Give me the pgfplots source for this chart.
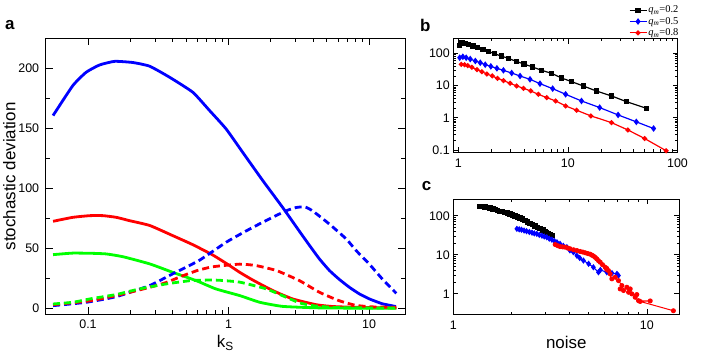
\documentclass[border=0pt]{standalone}
\usepackage{fontspec}
\setmainfont{Liberation Sans}
\newfontfamily\seriffont{Liberation Serif}
\usepackage{pgfplots}
\pgfplotsset{compat=1.18}
\newcommand\qm[1]{{\seriffont\textit{q}\textsubscript{\textit{m}}=#1}}
\begin{document}
\begin{tikzpicture}
\useasboundingbox (0bp,0bp) rectangle (708bp,354bp);
\pgfplotsset{
  every axis/.append style={
    scale only axis,
    /pgf/number format/assume math mode=true,
    tick label style={font=\fontsize{12.5}{14}\selectfont},
    label style={font=\fontsize{17}{20}\selectfont},
    axis line style={line width=0.8bp},
    every tick/.style={black, line width=0.8bp},
  }
}
% ---------------- panel a ----------------
\begin{axis}[at={(45.7bp,39.7bp)}, anchor=south west, width=359.3bp, height=276bp,
  xmode=log, xmin=0.05, xmax=18, ymin=-5, ymax=225,
  xtick={0.1,1,10}, xticklabels={0.1,1,10},
  ytick={0,50,100,150,200}, minor ytick={25,75,125,175},
  major tick length=7bp, minor tick length=4bp,
  yticklabel style={xshift=-3bp}, xticklabel style={yshift=-2bp},
  xlabel={k\textsubscript{S}}, ylabel={stochastic deviation},
  ylabel shift=-4bp]
\addplot[blue, line width=2.8bp, smooth, tension=0.3] coordinates {
(0.0564,160.6)(0.078,185.6)(0.097,196.7)(0.121,202.8)(0.155,205.8)(0.209,204.8)
(0.275,201.7)(0.381,192.5)(0.557,180)(0.73,165)(0.96,149.5)(1.26,130)(1.75,106.5)
(2.42,84.2)(3.2,64)(3.76,52.5)(4.44,41)(5.22,31.5)(6.15,24)(7.24,17.5)(8.53,12)
(10.05,7.8)(12.4,3.8)(15.5,1.5)};
\addplot[red, line width=2.8bp, smooth, tension=0.3] coordinates {
(0.0564,72.5)(0.078,75.8)(0.103,77.2)(0.128,77.2)(0.159,75.8)(0.198,73)(0.275,69)
(0.40,60.6)(0.557,53)(0.77,44.5)(0.96,37.5)(1.2,30)(1.49,23.5)(2.07,14.7)(2.86,7.8)
(4.2,3)(5.5,1.5)(8,0.8)(12,0.5)(15.6,0.3)};
\addplot[green, line width=2.8bp, smooth, tension=0.3] coordinates {
(0.0564,44.7)(0.078,46)(0.108,45.8)(0.135,45.3)(0.177,43)(0.275,37)(0.4,30)
(0.59,23)(0.81,16.2)(1.2,10.6)(1.67,5)(2.42,1.6)(4.2,0.4)(8,0.1)(15.6,0)};
\addplot[blue, line width=2.8bp, dash pattern=on 7bp off 4bp, smooth, tension=0.3] coordinates {
(0.0564,2.2)(0.097,5)(0.159,9.7)(0.275,19)(0.4,28.7)(0.62,40)(0.96,55)(1.2,61.5)(1.49,67.5)
(2.07,76)(2.6,81.5)(3.03,84)(3.5,84.5)(3.98,81)(5.2,70.3)(6.87,57.8)(8.1,48)(10,37)
(12.4,24.5)(15.6,12.5)};
\addplot[red, line width=2.8bp, dash pattern=on 7bp off 4bp, smooth, tension=0.3] coordinates {
(0.0564,3)(0.1,6)(0.159,10.6)(0.275,17.5)(0.36,21.5)(0.47,27)(0.6,31.5)(0.77,34.6)
(1.2,36.8)(1.57,35.6)(2.2,31.4)(3.2,23)(4.44,13.3)(6.1,6.4)(8,2.5)(10.5,1.2)(15.6,0.8)};
\addplot[green, line width=2.8bp, dash pattern=on 7bp off 4bp, smooth, tension=0.3] coordinates {
(0.0564,3.6)(0.078,5)(0.103,7.8)(0.159,11.5)(0.233,16.2)(0.36,20.3)(0.53,23)(0.69,23.5)
(0.85,23.4)(1.2,21.8)(1.85,16.2)(2.57,9.2)(3.2,4.5)(3.97,2.2)(5.5,0.8)(8,0.4)(15.6,0.2)};
\end{axis}
% ---------------- panel b ----------------
\begin{axis}[at={(453.3bp,202bp)}, anchor=south west, width=224.2bp, height=113.5bp,
  xmode=log, ymode=log, xmin=0.9, xmax=100, ymin=0.087, ymax=290,
  xtick={1,10,100}, xticklabels={1,10,100},
  ytick={0.1,1,10,100}, yticklabels={0.1,1,10,100},
  major tick length=5bp, minor tick length=2.5bp,
  xticklabel style={yshift=-3bp},
  legend style={at={(1.01,1.0)}, anchor=south east, draw=none, fill=none,
    font=\fontsize{10.5}{11}\selectfont, inner sep=0pt, row sep=0.5bp,
    nodes={inner sep=1.2bp}},
  legend cell align=left]
\addplot[black, line width=1.2bp, mark=square*, mark size=2bp] coordinates {
(1.03,180)(1.08,209)(1.158,204)(1.24,185)(1.36,169)(1.50,150)(1.68,133)(1.89,115)
(2.14,97.7)(2.46,82.7)(2.87,70)(3.37,56.5)(3.98,46.8)(4.77,37.7)(5.76,29.8)(7.11,24)
(8.76,17.2)(10.8,13.3)(13.8,9.75)(18.2,6.8)(25,4.78)(34.1,3.19)(51.9,1.98)};
\addlegendentry{\qm{0.2}}
\addplot[blue, line width=1.2bp, mark=diamond*, mark size=2.4bp] coordinates {
(1.03,73.5)(1.10,78.9)(1.18,73.5)(1.285,66.8)(1.43,58)(1.585,51.4)(1.76,44.6)(1.98,39.6)
(2.25,34.4)(2.58,29.8)(3.07,24.6)(3.66,19.9)(4.51,15.7)(5.56,11.5)(7.26,8.05)(9.53,5.38)
(13.3,3.34)(19.5,2.08)(28.7,1.23)(42.1,0.75)(60.5,0.466)};
\addlegendentry{\qm{0.5}}
\addplot[red, line width=1.2bp, mark=*, mark size=1.9bp] coordinates {
(1.065,45.6)(1.14,44.6)(1.22,41.5)(1.33,36.9)(1.48,31.2)(1.64,27.1)(1.82,22.9)(2.04,19.9)
(2.28,16.8)(2.58,14.3)(2.97,11.8)(3.41,9.75)(3.93,8.25)(4.58,6.82)(5.37,5.38)(6.40,4.24)
(7.73,3.34)(9.53,2.34)(12.0,1.72)(16.2,1.15)(25.0,0.71)(35.3,0.42)(50.1,0.228)(78.9,0.095)};
\addlegendentry{\qm{0.8}}
\end{axis}
% ---------------- panel c ----------------
\begin{axis}[at={(453.3bp,39.7bp)}, anchor=south west, width=226bp, height=115bp,
  xmode=log, ymode=log, xmin=1, xmax=14.7, ymin=0.3, ymax=265,
  xtick={1,10}, xticklabels={1,10},
  ytick={1,10,100}, yticklabels={1,10,100},
  major tick length=5bp, minor tick length=2.5bp,
  xticklabel style={yshift=-3bp},
  xlabel={noise}]
\addplot[black, line width=1bp, mark=square*, mark size=2.2bp] coordinates {
(1.374,176)(1.40,175)(1.43,173)(1.46,170)(1.49,166)(1.52,161)(1.55,157)(1.60,151)
(1.64,145)(1.69,138)(1.74,131)(1.80,127)(1.85,122)(1.90,117)(1.96,112)(2.02,106)
(2.08,100)(2.14,94)(2.21,88.9)(2.28,82)(2.35,75.7)(2.42,70)(2.49,64.6)(2.56,60)
(2.64,55.4)(2.72,51)(2.81,47.2)(2.90,43.5)(2.98,40.3)(3.04,38)(3.10,35.8)(3.16,33.5)(3.23,31.3)};
\addplot[blue, line width=1bp, mark=diamond*, mark size=2.4bp] coordinates {
(2.13,46.4)(2.19,45)(2.25,44)(2.32,42)(2.39,40.3)(2.47,38.5)(2.55,37)(2.62,35.5)(2.70,34.5)
(2.78,32.5)(2.87,31)(2.95,29.5)(3.04,28.2)(3.13,26)(3.23,24.5)(3.33,22.5)(3.43,21)
(3.56,19.1)(3.7,17)(3.86,15.7)(4.0,13)(4.17,11.7)(4.35,9.5)(4.5,8.3)(4.70,7.15)
(5.0,5.9)(5.29,4.81)(5.62,3.58)(5.75,4.1)(6.21,3.58)(6.6,3.4)(7.0,3.26)(7.13,2.95)};
\addplot[red, line width=1bp, mark=*, mark size=2bp] coordinates {
(3.36,18.4)(3.46,17.2)(3.56,16.3)(3.67,16)(3.78,15.7)(3.9,15)(4.01,14.3)(4.18,13.5)
(4.35,12.9)(4.52,12.2)(4.66,11.8)(4.8,11.3)(4.95,10.8)(5.09,10.4)(5.2,9.8)(5.3,9.3)
(5.41,8.6)(5.51,7.9)(5.62,7.1)(5.74,6.46)(5.9,5.6)(6.09,4.81)(6.2,4.5)(6.33,3.95)(6.46,3.26)
(6.2,4.2)(6.59,2.43)(6.86,2.67)(7.13,2.19)(7.43,1.63)(7.28,1.34)(7.57,1.22)(7.88,1.48)
(8.04,1.10)(8.20,1.34)(8.36,1.0)(8.87,0.96)(8.70,0.82)(9.05,0.67)(10.4,0.66)(9.23,0.64)(13.7,0.37)};
\end{axis}
% panel letters
\node[anchor=base west, inner sep=0pt, font=\fontsize{17}{20}\selectfont\bfseries] at (5bp,324bp) {a};
\node[anchor=base west, inner sep=0pt, font=\fontsize{17}{20}\selectfont\bfseries] at (420bp,322.5bp) {b};
\node[anchor=base west, inner sep=0pt, font=\fontsize{17}{20}\selectfont\bfseries] at (421.7bp,163.3bp) {c};
\end{tikzpicture}
\end{document}
